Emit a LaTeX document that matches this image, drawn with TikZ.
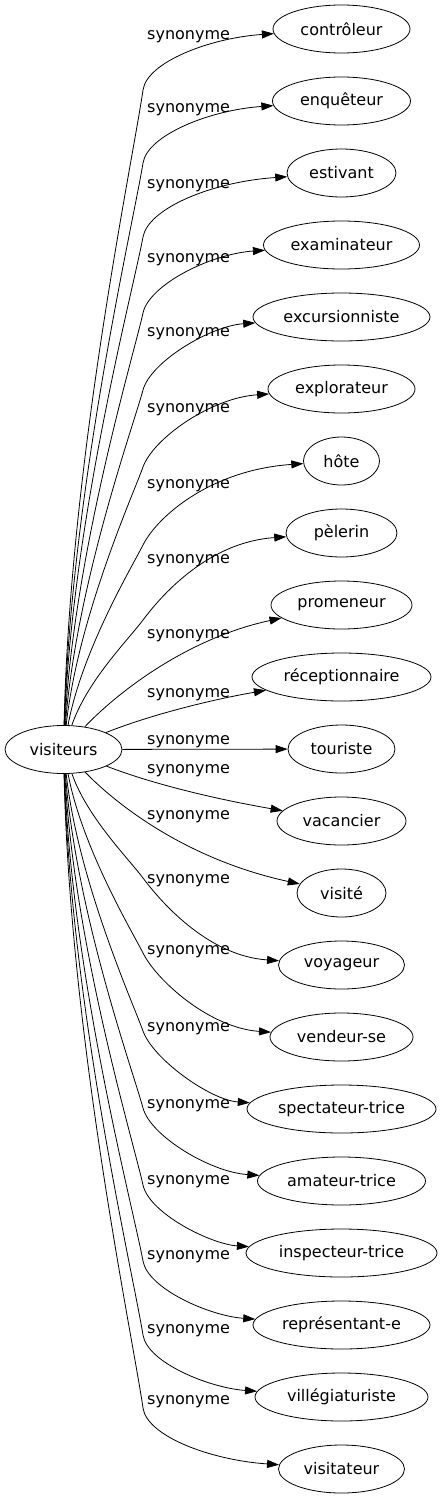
\documentclass[tikz,border=0pt]{standalone}
\usepackage{fontspec}
\setmainfont{DejaVu Sans}
\usetikzlibrary{shapes.geometric,arrows.meta}

\begin{document}
\begin{tikzpicture}[x=1pt,y=1pt,yscale=-1,xscale=1,
  term/.style={draw,ellipse,line width=0.8pt,inner sep=2pt,minimum height=48pt,font=\fontsize{16pt}{19pt}\selectfont},
  rel/.style={font=\fontsize{16pt}{19pt}\selectfont,anchor=base west,inner sep=0pt},
  link/.style={line width=0.8pt,-{Triangle[length=12pt,width=8pt]}}]
\useasboundingbox (0,0) rectangle (442,1499);

%Source word
\node[term,minimum width=117pt] (visiteurs) at (63.5,749.5) {visiteurs};

%Synonyms
\node[term,minimum width=137pt] (controleur) at (341.5,29) {contrôleur};
\node[term,minimum width=138pt] (enqueteur) at (341.5,101) {enquêteur};
\node[term,minimum width=109pt] (estivant) at (341.5,173) {estivant};
\node[term,minimum width=156pt] (examinateur) at (341.5,245) {examinateur};
\node[term,minimum width=177pt] (excursionniste) at (341.5,317) {excursionniste};
\node[term,minimum width=147pt] (explorateur) at (341.5,389) {explorateur};
\node[term,minimum width=76pt] (hote) at (341.5,461) {hôte};
\node[term,minimum width=111pt] (pelerin) at (341.5,533) {pèlerin};
\node[term,minimum width=141pt] (promeneur) at (341.5,605) {promeneur};
\node[term,minimum width=179pt] (receptionnaire) at (341.5,677) {réceptionnaire};
\node[term,minimum width=107pt] (touriste) at (341.5,749) {touriste};
\node[term,minimum width=129pt] (vacancier) at (341.5,821) {vacancier};
\node[term,minimum width=89pt] (visite) at (341.5,893) {visité};
\node[term,minimum width=126pt] (voyageur) at (341.5,965) {voyageur};
\node[term,minimum width=143pt] (vendeur) at (341.5,1037) {vendeur-se};
\node[term,minimum width=189pt] (spectateur) at (341.5,1109) {spectateur-trice};
\node[term,minimum width=168pt] (amateur) at (341.5,1181) {amateur-trice};
\node[term,minimum width=191pt] (inspecteur) at (341.5,1253) {inspecteur-trice};
\node[term,minimum width=177pt] (representant) at (341.5,1325) {représentant-e};
\node[term,minimum width=173pt] (villegiaturiste) at (341.5,1397) {villégiaturiste};
\node[term,minimum width=126pt] (visitateur) at (341.5,1469) {visitateur};

%Edges going up
\draw[link] (visiteurs) .. controls (70,459) and (133,160) .. (143,90) .. controls (147,62) and (210,38) .. (controleur);
\draw[link] (visiteurs) .. controls (71,490) and (133,225) .. (143,163) .. controls (147.5,135) and (210,110) .. (enqueteur);
\draw[link] (visiteurs) .. controls (72,521) and (133,291) .. (143,237) .. controls (148,209) and (210,182) .. (estivant);
\draw[link] (visiteurs) .. controls (74,553) and (133,358) .. (143,313) .. controls (149,285) and (210,254) .. (examinateur);
\draw[link] (visiteurs) .. controls (76,585) and (133,427) .. (143,390) .. controls (150.5,362) and (210,326) .. (excursionniste);
\draw[link] (visiteurs) .. controls (78,617) and (133,495) .. (143,467) .. controls (153,439) and (210,398) .. (explorateur);
\draw[link] (visiteurs) .. controls (82,650) and (133,565) .. (143,545) .. controls (157,517) and (210,470) .. (hote);
\draw[link] (visiteurs) .. controls (87,681) and (128,640) .. (143,620) .. controls (164,592) and (210,542) .. (pelerin);
\draw[link] (visiteurs) .. controls (110,700) and (180,640) .. (promeneur);
\draw[link] (visiteurs) .. controls (150,715) and (210,700) .. (receptionnaire);

%Straight edge
\draw[link] (visiteurs) -- (touriste);

%Edges going down
\draw[link] (visiteurs) .. controls (150,783) and (210,798) .. (vacancier);
\draw[link] (visiteurs) .. controls (110,798) and (180,858) .. (visite);
\draw[link] (visiteurs) .. controls (87,817) and (128,858) .. (143,878) .. controls (164,906) and (210,956) .. (voyageur);
\draw[link] (visiteurs) .. controls (82,848) and (133,933) .. (143,953) .. controls (157,981) and (210,1028) .. (vendeur);
\draw[link] (visiteurs) .. controls (78,881) and (133,1003) .. (143,1031) .. controls (153,1059) and (210,1100) .. (spectateur);
\draw[link] (visiteurs) .. controls (76,913) and (133,1071) .. (143,1108) .. controls (150.5,1136) and (210,1172) .. (amateur);
\draw[link] (visiteurs) .. controls (74,945) and (133,1140) .. (143,1185) .. controls (149,1213) and (210,1244) .. (inspecteur);
\draw[link] (visiteurs) .. controls (72,977) and (133,1207) .. (143,1261) .. controls (148,1289) and (210,1316) .. (representant);
\draw[link] (visiteurs) .. controls (71,1008) and (133,1273) .. (143,1335) .. controls (147.5,1363) and (210,1388) .. (villegiaturiste);
\draw[link] (visiteurs) .. controls (70,1039) and (133,1338) .. (143,1408) .. controls (147,1436) and (210,1460) .. (visitateur);

%Edge labels
\node[rel] (syn1) at (147,39) {synonyme};
\node[rel] (syn2) at (147,112) {synonyme};
\node[rel] (syn3) at (147,188) {synonyme};
\node[rel] (syn4) at (147,262) {synonyme};
\node[rel] (syn5) at (147,336) {synonyme};
\node[rel] (syn6) at (147,412) {synonyme};
\node[rel] (syn7) at (147,488) {synonyme};
\node[rel] (syn8) at (147,563) {synonyme};
\node[rel] (syn9) at (147,638) {synonyme};
\node[rel] (syn10) at (147,697) {synonyme};
\node[rel] (syn11) at (147,744) {synonyme};
\node[rel] (syn12) at (147,773) {synonyme};
\node[rel] (syn13) at (147,819) {synonyme};
\node[rel] (syn14) at (147,883) {synonyme};
\node[rel] (syn15) at (147,954) {synonyme};
\node[rel] (syn16) at (147,1031) {synonyme};
\node[rel] (syn17) at (147,1108) {synonyme};
\node[rel] (syn18) at (147,1184) {synonyme};
\node[rel] (syn19) at (147,1259) {synonyme};
\node[rel] (syn20) at (147,1333) {synonyme};
\node[rel] (syn21) at (147,1404) {synonyme};

\end{tikzpicture}
\end{document}
